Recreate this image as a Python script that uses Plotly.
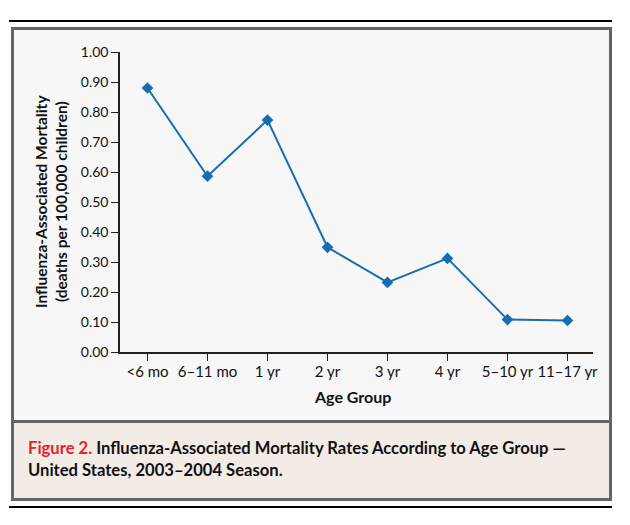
import plotly.graph_objects as go

age_groups = ["<6 mo", "6–11 mo", "1 yr", "2 yr", "3 yr", "4 yr", "5–10 yr", "11–17 yr"]
mortality = [0.88, 0.586, 0.773, 0.349, 0.232, 0.312, 0.108, 0.105]
y_tickvals = [0.0, 0.1, 0.2, 0.3, 0.4, 0.5, 0.6, 0.7, 0.8, 0.9, 1.0]
y_ticktext = ["0.00", "0.10", "0.20", "0.30", "0.40", "0.50", "0.60", "0.70", "0.80", "0.90", "1.00"]

# page is offset by the 8px default body margin
OFF = 8
W, H = 630 - OFF, 525 - OFF
L, R, T, B = 120 - OFF, 37, 52 - OFF, 173
PW, PH = W - L - R, H - T - B

def px(x):
    return (x - OFF - L) / PW

def py(y):
    return (H - B - (y - OFF)) / PH

FONT = "Lato"
fig = go.Figure()
fig.add_trace(go.Scatter(
    x=list(range(len(age_groups))), y=mortality, mode="lines+markers",
    line=dict(color="#176db3", width=2),
    marker=dict(symbol="diamond", size=9, color="#176db3"),
    hoverinfo="skip", showlegend=False,
))

shapes = [
    dict(type="line", xref="paper", yref="paper", x0=px(9), x1=px(612), y0=py(21), y1=py(21),
         line=dict(color="#000", width=2), layer="below"),
    dict(type="rect", xref="paper", yref="paper", x0=px(12.5), x1=px(610.5), y0=py(28.5), y1=py(421.5),
         fillcolor="#f7f7f7", line=dict(width=0), layer="below"),
    dict(type="rect", xref="paper", yref="paper", x0=px(12.5), x1=px(610.5), y0=py(421.5), y1=py(499.5),
         fillcolor="#f3ece6", line=dict(width=0), layer="below"),
    dict(type="rect", xref="paper", yref="paper", x0=px(12.5), x1=px(610.5), y0=py(28.5), y1=py(499.5),
         fillcolor="rgba(0,0,0,0)", line=dict(color="#646464", width=3), layer="below"),
    dict(type="line", xref="paper", yref="paper", x0=px(12.5), x1=px(610.5), y0=py(421.5), y1=py(421.5),
         line=dict(color="#646464", width=3), layer="below"),
    dict(type="line", xref="paper", yref="paper", x0=px(9), x1=px(612), y0=py(507), y1=py(507),
         line=dict(color="#000", width=2), layer="below"),
]

annotations = [
    dict(text="<b>Influenza-Associated Mortality<br>(deaths per 100,000 children)</b>",
         xref="paper", yref="paper", x=px(51), y=py(202), xanchor="center", yanchor="middle",
         textangle=-90, showarrow=False,
         font=dict(family=FONT, size=15.5, color="#111"), align="center"),
    dict(text="<b>Age Group</b>", xref="paper", yref="paper", x=px(352), y=py(396),
         xanchor="center", yanchor="middle",
         showarrow=False, font=dict(family=FONT, size=16, color="#111")),
    dict(text="<b><span style='color:#e5232c'>Figure 2.</span> Influenza-Associated Mortality Rates According to Age Group —"
              "<br>United States, 2003–2004 Season.</b>",
         xref="paper", yref="paper", x=px(26), y=py(458.5), xanchor="left", yanchor="middle",
         align="left", showarrow=False, font=dict(family=FONT, size=16.6, color="#111")),
]

fig.update_layout(
    width=W, height=H, margin=dict(l=L, r=R, t=T, b=B, autoexpand=False),
    paper_bgcolor="white", plot_bgcolor="rgba(0,0,0,0)",
    shapes=shapes, annotations=annotations, showlegend=False,
    font=dict(family=FONT, color="#111"),
    xaxis=dict(range=[-0.458, 7.425], tickmode="array", tickvals=list(range(len(age_groups))),
               ticktext=age_groups, showline=True, linecolor="#222", linewidth=1.5,
               ticks="outside", ticklen=7, tickcolor="#222", tickwidth=1.3, ticklabelstandoff=-2,
               showgrid=False, zeroline=False, tickfont=dict(family=FONT, size=15, color="#111")),
    yaxis=dict(range=[0, 1.0], tickmode="array", tickvals=y_tickvals, ticktext=y_ticktext,
               showline=True, linecolor="#222", linewidth=1.5,
               ticks="outside", ticklen=7, tickcolor="#222", tickwidth=1.3,
               showgrid=False, zeroline=False, tickfont=dict(family=FONT, size=14, color="#111")),
)

fig.write_html("out.html")
